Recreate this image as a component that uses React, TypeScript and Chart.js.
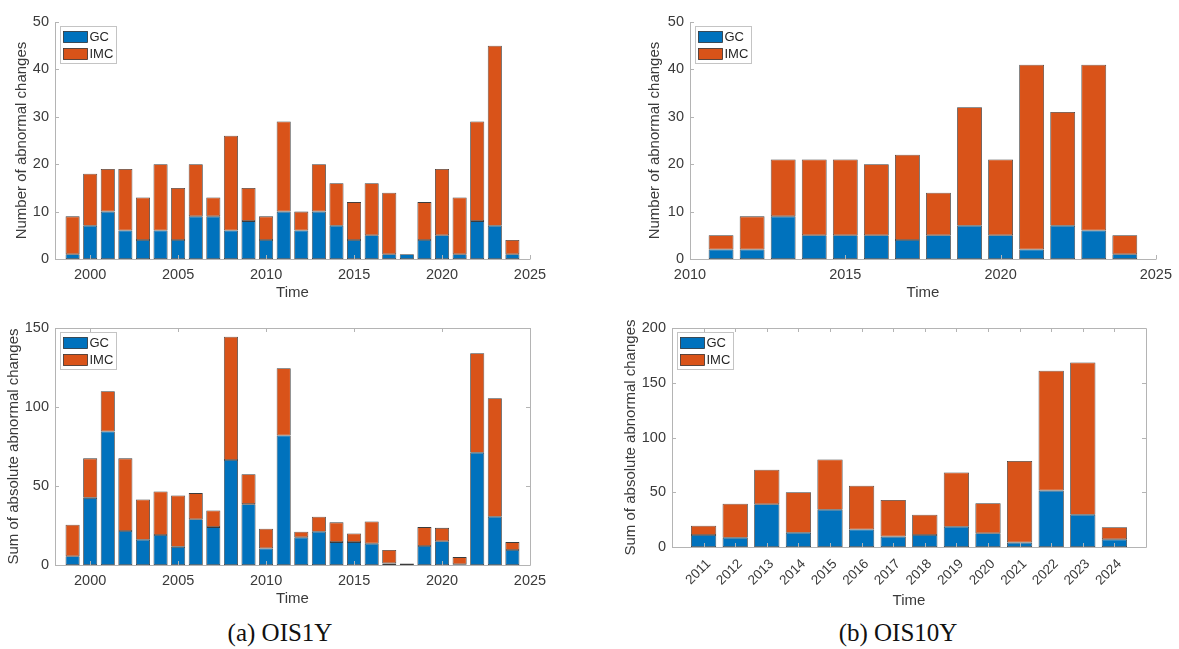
import React, { useEffect, useRef } from 'react';
import { Chart, registerables } from 'chart.js';

Chart.register(...registerables);
Chart.defaults.font.family = "'Liberation Sans', Arial, Helvetica, sans-serif";

// ---------- DATA ----------
const years1Y = [1999, 2000, 2001, 2002, 2003, 2004, 2005, 2006, 2007, 2008, 2009, 2010, 2011, 2012, 2013, 2014, 2015, 2016, 2017, 2018, 2019, 2020, 2021, 2022, 2023, 2024];
const countGC1Y = [1, 7, 10, 6, 4, 6, 4, 9, 9, 6, 8, 4, 10, 6, 10, 7, 4, 5, 1, 1, 4, 5, 1, 8, 7, 1];
const countIMC1Y = [8, 11, 9, 13, 9, 14, 11, 11, 4, 20, 7, 5, 19, 4, 10, 9, 8, 11, 13, 0, 8, 14, 12, 21, 38, 3];
const sumGC1Y = [5.5, 42.5, 84.5, 21.5, 16, 19, 11.5, 29, 24, 66.5, 38.5, 10.5, 82, 17.5, 21, 14.5, 14.5, 13.5, 1, 1, 12, 15, 0.5, 71, 30.5, 9.5];
const sumIMC1Y = [20, 25, 25.5, 46, 25.5, 27.5, 32.5, 16.5, 10.5, 78, 19, 12.5, 42.5, 3.5, 9.5, 12.5, 5.5, 14, 8.5, 0, 12, 8.5, 4.5, 63, 75, 5];

const years10Y = [2011, 2012, 2013, 2014, 2015, 2016, 2017, 2018, 2019, 2020, 2021, 2022, 2023, 2024];
const countGC10Y = [2, 2, 9, 5, 5, 5, 4, 5, 7, 5, 2, 7, 6, 1];
const countIMC10Y = [3, 7, 12, 16, 16, 15, 18, 9, 25, 16, 39, 24, 35, 4];
const sumGC10Y = [11, 8.5, 39, 13, 34, 16, 9.5, 11, 18.5, 12.5, 4, 51.5, 29.5, 7];
const sumIMC10Y = [8.5, 31, 31.5, 37, 46, 40, 33.5, 18.5, 49.5, 27.5, 74.5, 109.5, 139, 11];

const seriesLabels = ['GC', 'IMC'];
const xTitle = 'Time';
const yTitleCount = 'Number of abnormal changes';
const yTitleSum = 'Sum of absolute abnormal changes';
const captions = ['(a) OIS1Y', '(b) OIS10Y'];

// ---------- STYLE ----------
const BLUE = '#0072BD';
const ORANGE = '#D95319';
const EDGE = 'rgba(25,25,25,0.85)';
const TXT = '#3a3a3a';
const AXIS = '#b4b4b4';

const framePlugin = {
  id: 'frame',
  afterDatasetsDraw(chart: any, _a: any, opts: any) {
    const { ctx, chartArea, scales } = chart;
    const { left, right, top, bottom } = chartArea;
    const box = opts && opts.box;
    ctx.save();
    ctx.strokeStyle = AXIS;
    ctx.lineWidth = 1;
    const p = (v: number) => Math.round(v) + 0.5;
    ctx.beginPath();
    ctx.moveTo(p(left), p(top));
    ctx.lineTo(p(left), p(bottom));
    ctx.lineTo(p(right), p(bottom));
    if (box) {
      ctx.lineTo(p(right), p(top));
      ctx.lineTo(p(left), p(top));
    }
    ctx.stroke();
    const tl = 4;
    ctx.beginPath();
    scales.x.ticks.forEach((t: any) => {
      const x = p(scales.x.getPixelForValue(t.value));
      ctx.moveTo(x, bottom);
      ctx.lineTo(x, bottom - tl);
      if (box) {
        ctx.moveTo(x, top);
        ctx.lineTo(x, top + tl);
      }
    });
    scales.y.ticks.forEach((t: any) => {
      const y = p(scales.y.getPixelForValue(t.value));
      ctx.moveTo(left, y);
      ctx.lineTo(left + tl, y);
      if (box) {
        ctx.moveTo(right, y);
        ctx.lineTo(right - tl, y);
      }
    });
    ctx.stroke();
    ctx.restore();
  },
};

const legendPlugin = {
  id: 'innerLegend',
  afterDraw(chart: any) {
    const { ctx, chartArea } = chart;
    const x0 = Math.round(chartArea.left + 5) + 0.5;
    const y0 = Math.round(chartArea.top + 4) + 0.5;
    const w = 56;
    const h = 37;
    ctx.save();
    ctx.fillStyle = '#ffffff';
    ctx.fillRect(x0, y0, w, h);
    ctx.strokeStyle = '#c4c4c4';
    ctx.lineWidth = 1;
    ctx.strokeRect(x0, y0, w, h);
    const colors = [BLUE, ORANGE];
    ctx.font = "13px 'Liberation Sans', Arial, sans-serif";
    ctx.textBaseline = 'middle';
    ctx.textAlign = 'left';
    seriesLabels.forEach((lab, i) => {
      const cyRow = y0 + 10.5 + i * 17;
      ctx.fillStyle = colors[i];
      ctx.fillRect(x0 + 3, cyRow - 5.5, 24, 11);
      ctx.strokeStyle = EDGE;
      ctx.lineWidth = 0.8;
      ctx.strokeRect(x0 + 3, cyRow - 5.5, 24, 11);
      ctx.fillStyle = '#262626';
      ctx.fillText(lab, x0 + 29, cyRow + 0.5);
    });
    ctx.restore();
  },
};

type PanelProps = {
  rect: [number, number, number, number];
  area: [number, number, number, number];
  years: number[];
  gc: number[];
  imc: number[];
  xMin: number;
  xMax: number;
  xStep: number;
  yMax: number;
  yStep: number;
  yTitle: string;
  yTitleX: number;
  xTitleY: number;
  box: boolean;
  rotated: boolean;
};

function Panel(props: PanelProps) {
  const ref = useRef<HTMLCanvasElement | null>(null);
  const { rect, area, years, gc, imc, xMin, xMax, xStep, yMax, yStep, yTitle, yTitleX, xTitleY, box, rotated } = props;
  const [cx, cy, cw, ch] = rect;
  const [L, T, R, B] = area;

  useEffect(() => {
    if (!ref.current) return;
    const mk = (vals: number[]) => years.map((yr, i) => ({ x: yr, y: vals[i] }));
    const chart = new Chart(ref.current, {
      type: 'bar',
      data: {
        datasets: [
          {
            label: seriesLabels[0],
            data: mk(gc) as any,
            backgroundColor: BLUE,
            borderColor: EDGE,
            borderWidth: 0.8,
            borderSkipped: false,
            categoryPercentage: 1,
            barPercentage: 0.8,
          },
          {
            label: seriesLabels[1],
            data: mk(imc) as any,
            backgroundColor: ORANGE,
            borderColor: EDGE,
            borderWidth: 0.8,
            borderSkipped: false,
            categoryPercentage: 1,
            barPercentage: 0.8,
          },
        ],
      },
      options: {
        animation: false,
        responsive: false,
        maintainAspectRatio: false,
        layout: { padding: { left: 0, top: T - cy, right: cx + cw - R, bottom: 0 } },
        plugins: {
          legend: { display: false },
          tooltip: { enabled: false },
          frame: { box },
        } as any,
        scales: {
          x: {
            type: 'linear',
            stacked: true,
            offset: false,
            min: xMin,
            max: xMax,
            grid: { display: false, drawTicks: false },
            border: { display: false },
            ticks: {
              stepSize: xStep,
              includeBounds: false,
              autoSkip: false,
              maxRotation: rotated ? 45 : 0,
              minRotation: rotated ? 45 : 0,
              padding: rotated ? 9 : 7,
              labelOffset: rotated ? 5 : 0,
              color: TXT,
              font: { size: rotated ? 13.5 : 14.5 },
              callback: (v: any) => (rotated && (v === xMin || v === xMax) ? null : String(v)),
            },
            title: {
              display: true,
              text: xTitle,
              color: TXT,
              font: { size: 15 },
              padding: { top: 0, bottom: cy + ch - xTitleY - 9 },
            },
            afterFit: (s: any) => {
              s.height = cy + ch - B;
            },
          },
          y: {
            stacked: true,
            min: 0,
            max: yMax,
            grid: { display: false, drawTicks: false },
            border: { display: false },
            ticks: { stepSize: yStep, padding: 6, color: TXT, font: { size: 14.5 } },
            title: {
              display: true,
              text: yTitle,
              color: TXT,
              font: { size: 15 },
              padding: { top: yTitleX - cx - 9, bottom: 0 },
            },
            afterFit: (s: any) => {
              s.width = L - cx;
            },
          },
        } as any,
      },
      plugins: [framePlugin, legendPlugin],
    });
    return () => chart.destroy();
  }, []);

  return (
    <canvas
      ref={ref}
      width={cw}
      height={ch}
      style={{ position: 'absolute', left: cx, top: cy, width: cw, height: ch }}
    />
  );
}

export default function App() {
  return (
    <div style={{ position: 'absolute', left: 0, top: 0, width: 1179, height: 649, background: '#ffffff', overflow: 'hidden' }}>
      <Panel rect={[0, 0, 580, 310]} area={[55, 22, 530, 259]} years={years1Y} gc={countGC1Y} imc={countIMC1Y}
        xMin={1998} xMax={2025} xStep={5} yMax={50} yStep={10} yTitle={yTitleCount} yTitleX={22} xTitleY={293} box={false} rotated={false} />
      <Panel rect={[580, 0, 599, 310]} area={[690, 22, 1161, 259]} years={years10Y} gc={countGC10Y} imc={countIMC10Y}
        xMin={2010} xMax={2025} xStep={5} yMax={50} yStep={10} yTitle={yTitleCount} yTitleX={655} xTitleY={293} box={false} rotated={false} />
      <Panel rect={[0, 310, 580, 300]} area={[55, 328, 530, 565]} years={years1Y} gc={sumGC1Y} imc={sumIMC1Y}
        xMin={1998} xMax={2025} xStep={5} yMax={150} yStep={50} yTitle={yTitleSum} yTitleX={14} xTitleY={599} box={true} rotated={false} />
      <Panel rect={[580, 310, 599, 300]} area={[672, 328, 1146, 547]} years={years10Y} gc={sumGC10Y} imc={sumIMC10Y}
        xMin={2010} xMax={2025} xStep={1} yMax={200} yStep={50} yTitle={yTitleSum} yTitleX={631} xTitleY={601} box={true} rotated={true} />
      <div style={{ position: 'absolute', left: 180, width: 200, top: 617, textAlign: 'center', fontFamily: "'Liberation Serif', 'Times New Roman', serif", fontSize: 25, lineHeight: '32px', color: '#111' }}>
        {captions[0]}
      </div>
      <div style={{ position: 'absolute', left: 798, width: 200, top: 617, textAlign: 'center', fontFamily: "'Liberation Serif', 'Times New Roman', serif", fontSize: 25, lineHeight: '32px', color: '#111' }}>
        {captions[1]}
      </div>
    </div>
  );
}
